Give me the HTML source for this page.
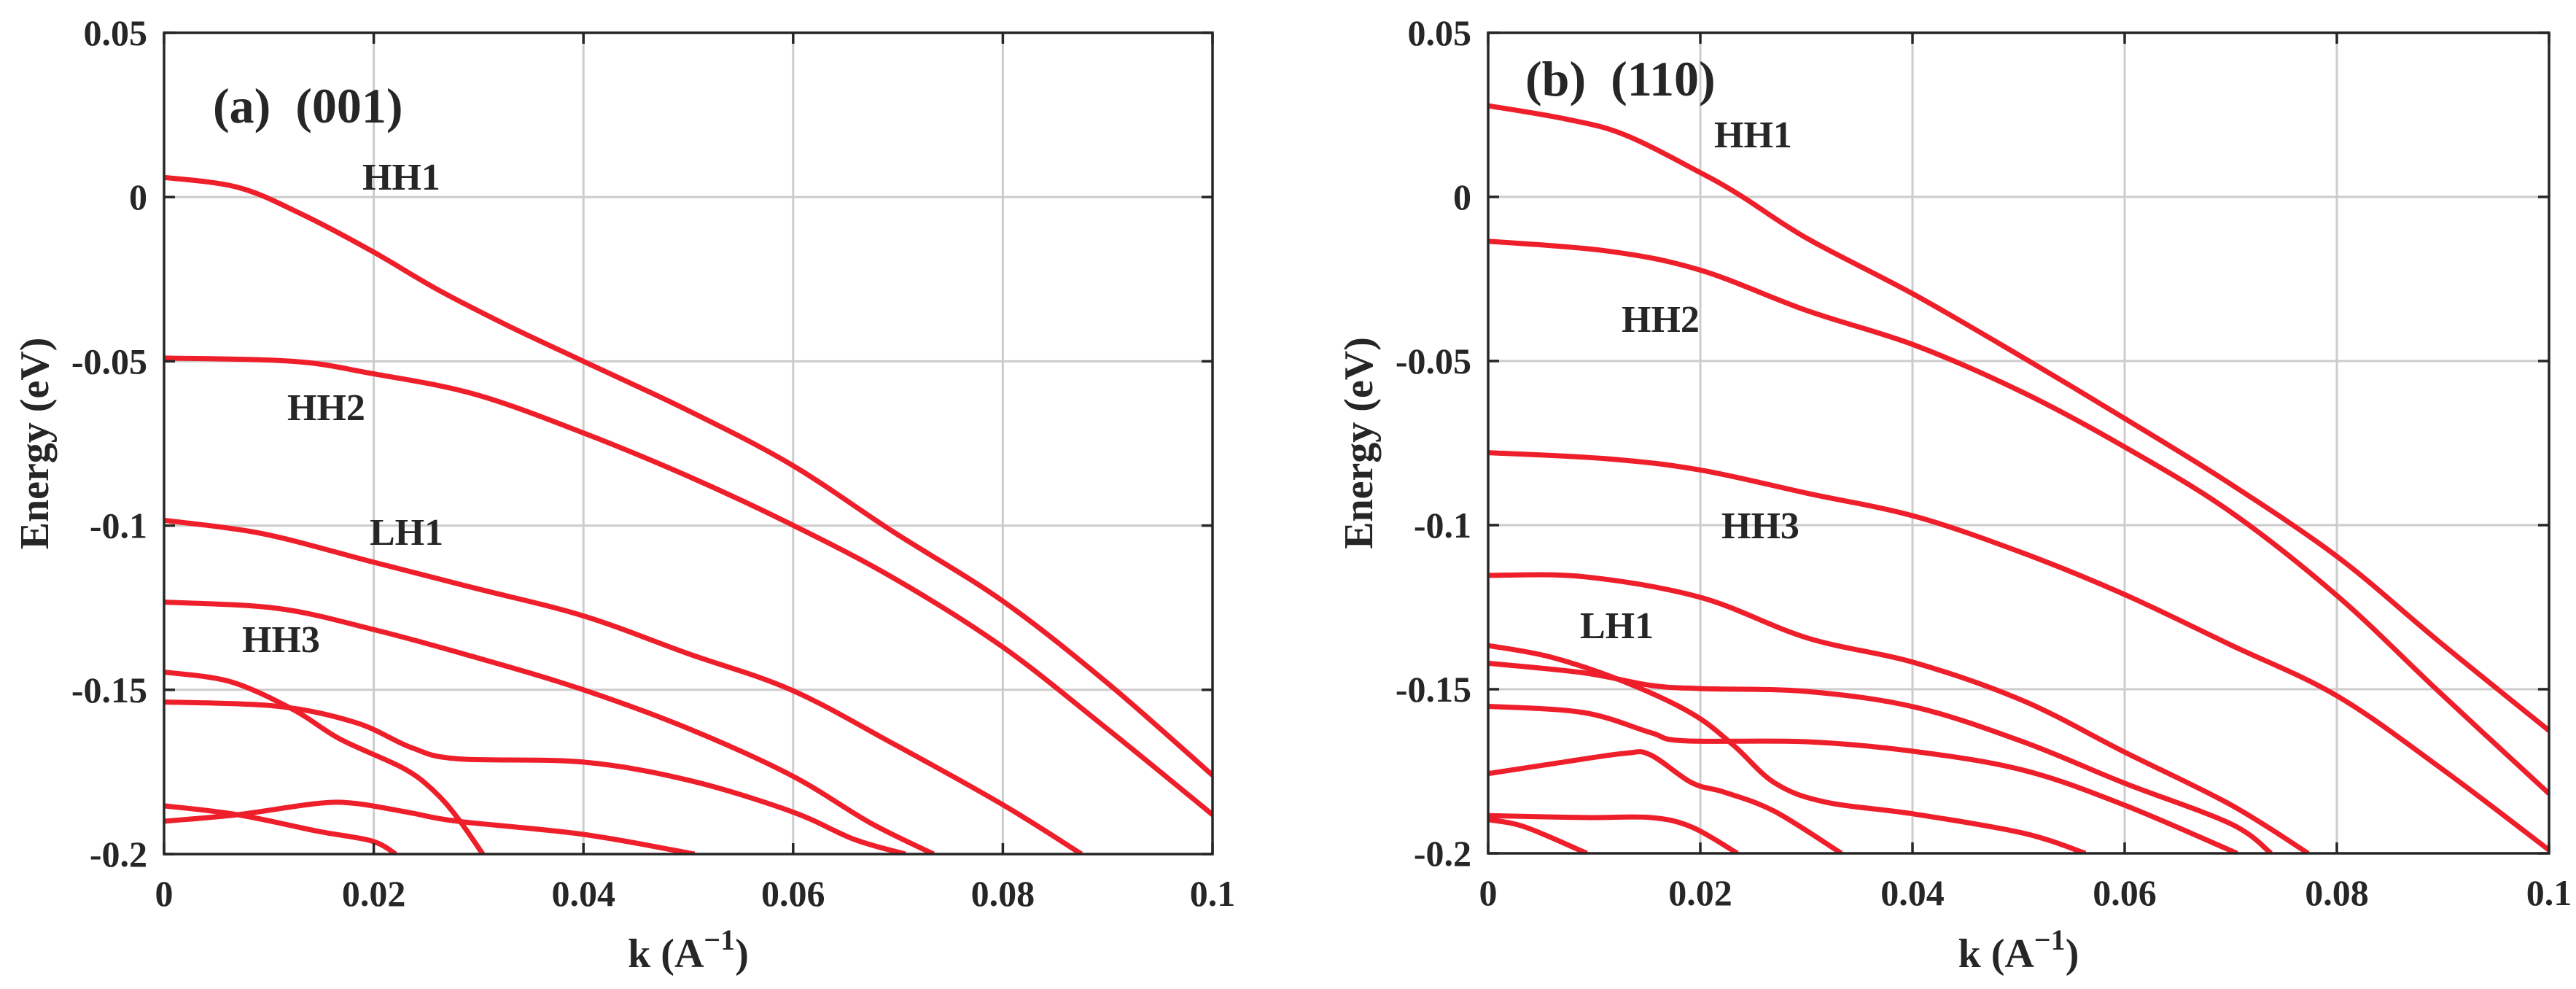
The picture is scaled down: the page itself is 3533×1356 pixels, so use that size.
<!DOCTYPE html>
<html><head><meta charset="utf-8">
<style>
html,body{margin:0;padding:0;background:#fff;}
svg text{font-family:"Liberation Serif",serif;font-weight:bold;fill:#262626;}
</style></head>
<body>
<svg id="fig" width="3533" height="1351" viewBox="0 0 3533 1351" xmlns="http://www.w3.org/2000/svg"></svg>
<script>
const xTicks=[0,0.02,0.04,0.06,0.08,0.1];
const xTickLabels=["0","0.02","0.04","0.06","0.08","0.1"];
const yTicks=[0.05,0,-0.05,-0.1,-0.15,-0.2];
const yTickLabels=["0.05","0","-0.05","-0.1","-0.15","-0.2"];

// Panel (a) (001) bands: [k, E] pairs
const a_HH1=[[0,0.006],[0.007,0.003],[0.013,-0.005],[0.0198,-0.0164],[0.026,-0.028],[0.0327,-0.039],[0.04,-0.05],[0.05,-0.065],[0.0598,-0.0814],[0.0696,-0.102],[0.08,-0.123],[0.09,-0.148],[0.1,-0.176]];
const a_HH2=[[0,-0.049],[0.0123,-0.05],[0.0198,-0.0537],[0.0296,-0.06],[0.04,-0.0718],[0.05,-0.085],[0.0598,-0.0996],[0.0696,-0.116],[0.08,-0.137],[0.09,-0.162],[0.1,-0.188]];
const a_LH1=[[0,-0.0984],[0.0093,-0.1024],[0.0198,-0.111],[0.0296,-0.119],[0.04,-0.1275],[0.05,-0.139],[0.0598,-0.15],[0.0696,-0.1665],[0.08,-0.185],[0.0875,-0.2]];
const a_HH3=[[0,-0.1233],[0.0108,-0.1252],[0.0198,-0.1315],[0.0296,-0.14],[0.04,-0.15],[0.05,-0.1618],[0.0598,-0.176],[0.0673,-0.1904],[0.0734,-0.2]];
const a_B5=[[0,-0.1537],[0.0108,-0.155],[0.0183,-0.16],[0.0236,-0.1676],[0.028,-0.171],[0.04,-0.172],[0.05,-0.1775],[0.0598,-0.187],[0.0658,-0.1955],[0.0707,-0.2]];
const a_B6=[[0,-0.1446],[0.0063,-0.1475],[0.0123,-0.156],[0.0168,-0.165],[0.0229,-0.174],[0.0258,-0.181],[0.028,-0.189],[0.0304,-0.2]];
const a_B7=[[0,-0.19],[0.007,-0.188],[0.0146,-0.1846],[0.0183,-0.1846],[0.0236,-0.1875],[0.028,-0.19],[0.04,-0.194],[0.0506,-0.2]];
const a_B8=[[0,-0.1853],[0.007,-0.188],[0.0146,-0.193],[0.0198,-0.196],[0.0221,-0.2]];

// Panel (b) (110) bands
const b_HH1=[[0,0.0278],[0.0074,0.0237],[0.0129,0.0189],[0.02,0.0074],[0.0239,0.0002],[0.0301,-0.0127],[0.0403,-0.03],[0.0505,-0.0491],[0.0599,-0.0673],[0.07,-0.0875],[0.0802,-0.11],[0.0896,-0.1354],[0.1,-0.1626]];
const b_HH2=[[0,-0.0135],[0.0113,-0.0165],[0.02,-0.0223],[0.0301,-0.0347],[0.0403,-0.0453],[0.0505,-0.0597],[0.0599,-0.076],[0.07,-0.096],[0.0802,-0.122],[0.0896,-0.1507],[0.1,-0.1818]];
const b_HH3=[[0,-0.0779],[0.0113,-0.0798],[0.02,-0.0832],[0.0301,-0.0903],[0.0403,-0.0974],[0.0505,-0.1086],[0.0599,-0.121],[0.07,-0.1365],[0.08,-0.152],[0.09,-0.1745],[0.1,-0.199]];
const b_B4=[[0,-0.1153],[0.009,-0.1157],[0.02,-0.122],[0.0301,-0.1344],[0.0403,-0.142],[0.0505,-0.1536],[0.0599,-0.169],[0.07,-0.1852],[0.0773,-0.2]];
const b_B5=[[0,-0.1367],[0.0059,-0.1402],[0.0129,-0.1478],[0.0192,-0.1574],[0.0231,-0.167],[0.027,-0.1785],[0.0317,-0.1843],[0.0403,-0.1881],[0.0505,-0.1939],[0.0563,-0.2]];
const b_B6=[[0,-0.1421],[0.009,-0.145],[0.0153,-0.1488],[0.02,-0.1498],[0.0301,-0.1507],[0.0403,-0.1555],[0.0505,-0.1661],[0.0599,-0.1785],[0.07,-0.191],[0.0738,-0.2]];
const b_B7=[[0,-0.1552],[0.009,-0.1571],[0.0153,-0.1632],[0.0184,-0.1657],[0.0301,-0.166],[0.0403,-0.169],[0.0505,-0.1747],[0.0599,-0.1852],[0.0706,-0.2]];
const b_B8=[[0,-0.1757],[0.0059,-0.1728],[0.0129,-0.1695],[0.0153,-0.17],[0.0192,-0.1785],[0.0223,-0.1814],[0.027,-0.1872],[0.0333,-0.2]];
const b_B9=[[0,-0.1885],[0.009,-0.1891],[0.0153,-0.1891],[0.0192,-0.192],[0.0235,-0.2]];
const b_B10=[[0,-0.1897],[0.0035,-0.192],[0.0093,-0.2]];

const NS="http://www.w3.org/2000/svg";
const svg=document.getElementById('fig');
function mk(tag,attrs,parent){const e=document.createElementNS(NS,tag);for(const k in attrs)e.setAttribute(k,attrs[k]);(parent||svg).appendChild(e);return e;}

function smoothPath(pts){
  let d="M"+pts[0][0].toFixed(1)+","+pts[0][1].toFixed(1);
  for(let i=0;i<pts.length-1;i++){
    const p0=pts[i-1]||pts[i],p1=pts[i],p2=pts[i+1],p3=pts[i+2]||p2;
    const c1=[p1[0]+(p2[0]-p0[0])/6,p1[1]+(p2[1]-p0[1])/6];
    const c2=[p2[0]-(p3[0]-p1[0])/6,p2[1]-(p3[1]-p1[1])/6];
    d+=" C"+c1[0].toFixed(1)+","+c1[1].toFixed(1)+" "+c2[0].toFixed(1)+","+c2[1].toFixed(1)+" "+p2[0].toFixed(1)+","+p2[1].toFixed(1);
  }
  return d;
}

function panel(id,L,R,T,B,bands,labels,title,ylabX){
  const g=mk('g',{});
  
  
  const sx=k=>L+(k-0)/(0.1)*(R-L);
  const sy=e=>T+(0.05-e)/0.25*(B-T);
  xTicks.forEach((t,i)=>{
    if(i>0&&i<xTicks.length-1){const l=mk('line',{x1:sx(t),x2:sx(t),y1:T,y2:B,stroke:'#cccccc','stroke-width':3},g);
      
      }
  });
  yTicks.forEach((t,i)=>{
    if(i>0&&i<yTicks.length-1){const l=mk('line',{x1:L,x2:R,y1:sy(t),y2:sy(t),stroke:'#cccccc','stroke-width':3},g);
      
      }
  });
  const cg=mk('clipPath',{id:'clip-'+id},g);
  mk('rect',{x:L,y:T,width:R-L,height:B-T},cg);
  bands.forEach((b,i)=>{
    const pts=b.map(p=>[sx(p[0]),sy(p[1])]);
    const p=mk('path',{d:smoothPath(pts),fill:'none',stroke:'#ee1f2a','stroke-width':7,'stroke-linejoin':'round','clip-path':'url(#clip-'+id+')'},g);
    
    
  });
  const fr=mk('rect',{x:L,y:T,width:R-L,height:B-T,fill:'none',stroke:'#262626','stroke-width':3.5},g);
  
  
  xTicks.forEach((t,i)=>{
    mk('line',{x1:sx(t),x2:sx(t),y1:B,y2:B-15,stroke:'#262626','stroke-width':3.5},g);
    mk('line',{x1:sx(t),x2:sx(t),y1:T,y2:T+15,stroke:'#262626','stroke-width':3.5},g);
    const tx=mk('text',{x:sx(t),y:B+71,'font-size':50,'text-anchor':'middle'},g);
    tx.textContent=xTickLabels[i];
    
    
  });
  yTicks.forEach((t,i)=>{
    mk('line',{x1:L,x2:L+15,y1:sy(t),y2:sy(t),stroke:'#262626','stroke-width':3.5},g);
    mk('line',{x1:R,x2:R-15,y1:sy(t),y2:sy(t),stroke:'#262626','stroke-width':3.5},g);
    const tx=mk('text',{x:L-23,y:sy(t)+17,'font-size':50,'text-anchor':'end'},g);
    tx.textContent=yTickLabels[i];
    
    
  });
  const xt=mk('text',{x:(L+R)/2,y:1326,'font-size':56,'text-anchor':'middle'},g);
  
  
  xt.innerHTML='k (A<tspan dy="-24" font-size="40">\u22121</tspan><tspan dy="24">)</tspan>';
  const yt=mk('text',{x:0,y:0,'font-size':56,'text-anchor':'middle',transform:'translate('+ylabX+','+((T+B)/2)+') rotate(-90)'},g);
  yt.textContent='Energy (eV)';
  
  
  const tt=mk('text',{x:title[1],y:title[2],'font-size':68,fill:'#0a0a0a'},g);
  tt.style.whiteSpace='pre';
  tt.textContent=title[0];
  
  
  labels.forEach(l=>{
    const t=mk('text',{x:l[1],y:l[2],'font-size':52,fill:'#0a0a0a'},g);
    t.textContent=l[0];
    
    
  });
}

panel('panel-a-001',225,1663,45,1171,[a_HH1,a_HH2,a_LH1,a_HH3,a_B5,a_B6,a_B7,a_B8],
  [['HH1',497,260],['HH2',394,576],['LH1',507,747],['HH3',332,894]],['(a)  (001)',292,168],66);
panel('panel-b-110',2041,3496,45,1170,[b_HH1,b_HH2,b_HH3,b_B4,b_B5,b_B6,b_B7,b_B8,b_B9,b_B10],
  [['HH1',2351,202],['HH2',2224,455],['HH3',2361,738],['LH1',2167,875]],['(b)  (110)',2092,131],1882);
</script>
</body></html>
